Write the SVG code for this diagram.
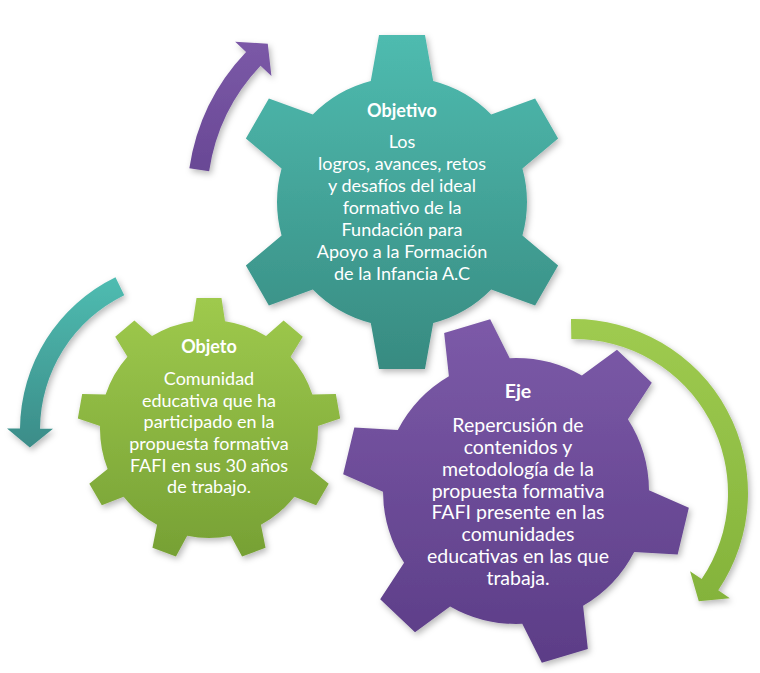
<svg xmlns="http://www.w3.org/2000/svg" width="760" height="673" viewBox="0 0 760 673">
<style>
.t{font-family:Lato,"Open Sans","Liberation Sans",sans-serif;fill:#ffffff;text-anchor:middle;font-size:18px}
.p{font-size:19.5px}
.h{font-weight:bold}
</style>
<defs>
<filter id="sh" x="-20%" y="-20%" width="140%" height="140%"><feDropShadow dx="2" dy="3" stdDeviation="3" flood-color="#000" flood-opacity="0.28"/></filter>
<linearGradient id="gTeal" x1="0" y1="0" x2="0" y2="1"><stop offset="0" stop-color="#4fbcb0"/><stop offset="1" stop-color="#378a80"/></linearGradient>
<linearGradient id="gGreen" x1="0" y1="0" x2="0" y2="1"><stop offset="0" stop-color="#a0cb4e"/><stop offset="1" stop-color="#76a034"/></linearGradient>
<linearGradient id="gPurple" x1="0" y1="0" x2="0" y2="1"><stop offset="0" stop-color="#7d5ba9"/><stop offset="1" stop-color="#5b3c86"/></linearGradient>
<linearGradient id="aPurple" x1="0" y1="0" x2="0" y2="1"><stop offset="0" stop-color="#7b59a7"/><stop offset="1" stop-color="#694895"/></linearGradient>
<linearGradient id="aTeal" x1="0" y1="0" x2="0" y2="1"><stop offset="0" stop-color="#4fbcb1"/><stop offset="1" stop-color="#3b8c88"/></linearGradient>
<linearGradient id="aGreen" x1="0" y1="0" x2="0" y2="1"><stop offset="0" stop-color="#9fcb50"/><stop offset="1" stop-color="#84b33b"/></linearGradient>
<polygon id="toothA" points="-35,-100 -23,-167 23,-167 35,-100"/>
<polygon id="toothP" points="-37,-100 -24,-172 24,-172 37,-100"/>
<polygon id="toothG" points="-18,-95 -12.5,-131 12.5,-131 18,-95"/>
<clipPath id="cTeal">
<circle cx="402" cy="202" r="125"/>
<use href="#toothA" transform="translate(402,202) rotate(0)"/>
<use href="#toothA" transform="translate(402,202) rotate(60)"/>
<use href="#toothA" transform="translate(402,202) rotate(120)"/>
<use href="#toothA" transform="translate(402,202) rotate(180)"/>
<use href="#toothA" transform="translate(402,202) rotate(240)"/>
<use href="#toothA" transform="translate(402,202) rotate(300)"/>
</clipPath>
<clipPath id="cPurple">
<circle cx="516" cy="491" r="133"/>
<use href="#toothP" transform="translate(516,491) rotate(-16.5)"/>
<use href="#toothP" transform="translate(516,491) rotate(43.5)"/>
<use href="#toothP" transform="translate(516,491) rotate(103.5)"/>
<use href="#toothP" transform="translate(516,491) rotate(163.5)"/>
<use href="#toothP" transform="translate(516,491) rotate(223.5)"/>
<use href="#toothP" transform="translate(516,491) rotate(283.5)"/>
</clipPath>
<clipPath id="cGreen">
<circle cx="209" cy="429" r="109"/>
<use href="#toothG" transform="translate(209,429) rotate(0)"/>
<use href="#toothG" transform="translate(209,429) rotate(40)"/>
<use href="#toothG" transform="translate(209,429) rotate(80)"/>
<use href="#toothG" transform="translate(209,429) rotate(120)"/>
<use href="#toothG" transform="translate(209,429) rotate(160)"/>
<use href="#toothG" transform="translate(209,429) rotate(200)"/>
<use href="#toothG" transform="translate(209,429) rotate(240)"/>
<use href="#toothG" transform="translate(209,429) rotate(280)"/>
<use href="#toothG" transform="translate(209,429) rotate(320)"/>
</clipPath>
</defs>
<rect width="760" height="673" fill="#ffffff"/>
<g id="connectors" filter="url(#sh)">
<path id="arrowPurple" fill="url(#aPurple)" d="M189.36,168.22 A215,215 0 0 1 246.05,52.0 L235.16,41.68 L267.76,43.66 L271.43,76.10 L260.55,65.77 A195,195 0 0 0 209.14,171.18 Z"/>
<path id="arrowTeal" fill="url(#aTeal)" d="M115.48,277.21 A170,170 0 0 0 20.01,428.52 L7.01,428.40 L29.83,447.6 L53.01,428.80 L40.01,428.69 A150,150 0 0 1 124.24,295.18 Z"/>
<path id="arrowGreen" fill="url(#aGreen)" d="M570.96,319.03 A174,174 0 0 1 718.25,590.30 L729.86,598.13 L698.78,601.29 L690.07,571.29 L701.67,579.12 A154,154 0 0 0 571.31,339.02 Z"/>
</g>
<g id="objetivo">
<g filter="url(#sh)"><rect x="230" y="30" width="345" height="345" fill="url(#gTeal)" clip-path="url(#cTeal)"/></g>
<text class="t h" x="402" y="117">Objetivo</text>
<text class="t" x="402" y="148">Los</text>
<text class="t" x="402" y="170">logros, avances, retos</text>
<text class="t" x="402" y="192">y desafíos del ideal</text>
<text class="t" x="402" y="214">formativo de la</text>
<text class="t" x="402" y="236">Fundación para</text>
<text class="t" x="402" y="258">Apoyo a la Formación</text>
<text class="t" x="402" y="280">de la Infancia A.C</text>
</g>
<g id="objeto">
<g filter="url(#sh)"><rect x="70" y="290" width="280" height="270" fill="url(#gGreen)" clip-path="url(#cGreen)"/></g>
<text class="t h" x="209" y="353">Objeto</text>
<text class="t" x="209" y="385">Comunidad</text>
<text class="t" x="209" y="406.5">educativa que ha</text>
<text class="t" x="209" y="428">participado en la</text>
<text class="t" x="209" y="450">propuesta formativa</text>
<text class="t" x="209" y="471.5">FAFI en sus 30 años</text>
<text class="t" x="209" y="493">de trabajo.</text>
</g>
<g id="eje">
<g filter="url(#sh)"><rect x="335" y="310" width="360" height="360" fill="url(#gPurple)" clip-path="url(#cPurple)"/></g>
<text class="t p h" x="518" y="398">Eje</text>
<text class="t p" x="518" y="432">Repercusión de</text>
<text class="t p" x="518" y="454">contenidos y</text>
<text class="t p" x="518" y="476">metodología de la</text>
<text class="t p" x="518" y="497.5">propuesta formativa</text>
<text class="t p" x="518" y="519">FAFI presente en las</text>
<text class="t p" x="518" y="541">comunidades</text>
<text class="t p" x="518" y="563">educativas en las que</text>
<text class="t p" x="518" y="585">trabaja.</text>
</g>
</svg>
